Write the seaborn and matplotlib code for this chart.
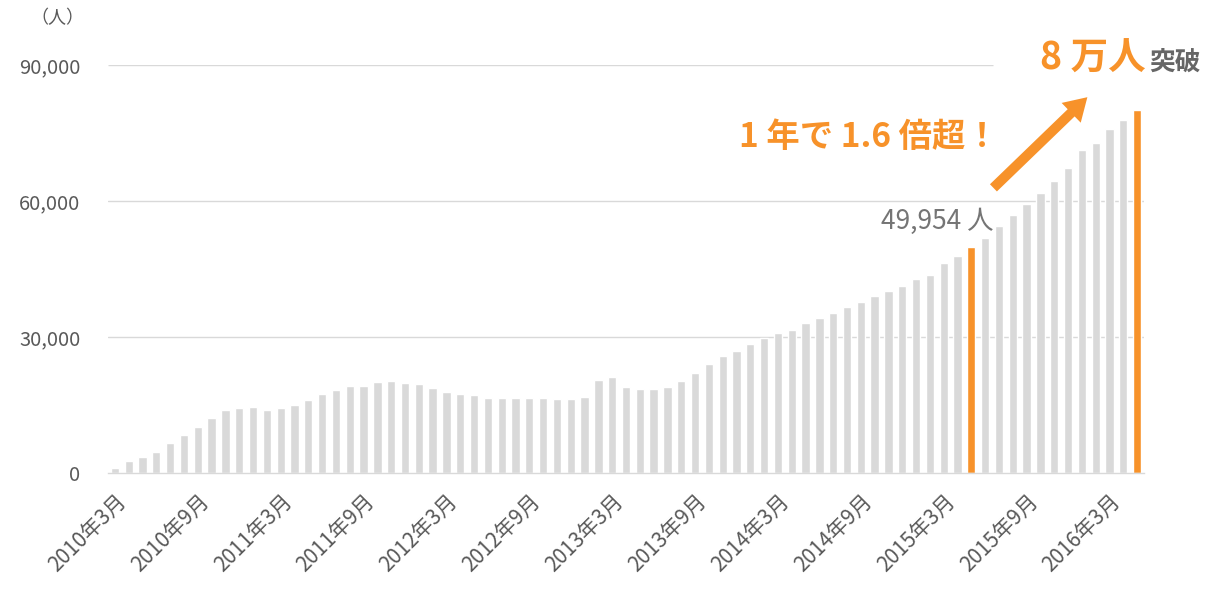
import matplotlib
matplotlib.use("Agg")
import matplotlib.pyplot as plt
import seaborn as sns
import pandas as pd

# Monthly counts, March 2010 to May 2016
start_year, start_month = 2010, 3
members = [
    1200, 2600, 3500, 4600, 6600, 8400, 10100, 12100, 13800, 14300,
    14600, 14000, 14300, 15100, 16100, 17400, 18200, 19300, 19300, 20000,
    20300, 19800, 19600, 18800, 17800, 17400, 17100, 16500, 16500, 16600,
    16500, 16500, 16300, 16300, 16800, 20500, 21200, 19000, 18500, 18500,
    19000, 20400, 22100, 24000, 25700, 27000, 28500, 29700, 30800, 31500,
    33000, 34300, 35200, 36700, 37700, 39000, 40200, 41200, 42700, 43700,
    46400, 47900, 49954, 51900, 54400, 56900, 59300, 61700, 64400, 67200,
    71300, 72900, 75800, 77900, 80100,
]
highlight_months = ["2015年5月", "2016年5月"]
y_ticks = [0, 30000, 60000, 90000]

months = []
y, m = start_year, start_month
for _ in members:
    months.append(f"{y}年{m}月")
    m += 1
    if m > 12:
        y, m = y + 1, 1

GRAY_BAR = "#d9d9d9"
ORANGE = "#f7922a"
TEXT_GRAY = "#595959"

sns.set_style("white")
plt.rcParams["font.family"] = ["Noto Sans CJK JP", "DejaVu Sans"]

df = pd.DataFrame({"month": months, "members": members})
palette = {mo: (ORANGE if mo in highlight_months else GRAY_BAR) for mo in months}

fig = plt.figure(figsize=(12.14, 5.92), dpi=100)
ax = fig.add_axes([108 / 1214, 1 - 473 / 592, (1144 - 108) / 1214, (473 - 65) / 592])

sns.barplot(data=df, x="month", y="members", hue="month", palette=palette,
            legend=False, width=0.6, saturation=1, ax=ax)

n = len(months)
ax.set_xlim(-0.5, n - 0.5)
ax.set_ylim(0, 90000)
ax.set_xlabel("")
ax.set_ylabel("")

# Horizontal gridlines; the top one stops short of the headline text
idx_a = months.index(highlight_months[0])
idx_b = months.index(highlight_months[1])
for yt in y_ticks[1:-1]:
    ax.axhline(yt, color=GRAY_BAR, lw=1, zorder=0)
ax.hlines(y_ticks[-1], -0.5, idx_a + 1.6, color=GRAY_BAR, lw=1, zorder=0)

for side in ["top", "right", "left"]:
    ax.spines[side].set_visible(False)
ax.spines["bottom"].set_color(GRAY_BAR)
ax.spines["bottom"].set_linewidth(1)

ax.set_yticks(y_ticks)
ax.set_yticklabels([f"{v:,}" for v in y_ticks], color=TEXT_GRAY, fontsize=14.5)
ax.tick_params(axis="y", length=0, pad=20)

label_pos = list(range(0, n, 6))
ax.set_xticks(label_pos)
ax.set_xticklabels([months[i] for i in label_pos], rotation=45, ha="right",
                   rotation_mode="anchor", color=TEXT_GRAY, fontsize=15)
ax.tick_params(axis="x", which="major", length=0, pad=12)
ax.set_xticks([i - 0.5 for i in label_pos], minor=True)
ax.tick_params(axis="x", which="minor", length=5, color=GRAY_BAR, width=1)

# Annotations
ax.text(idx_a + 1.6, 55600, f"{members[idx_a]:,} 人", ha="right", va="center",
        color="#757575", fontsize=19)
ax.text(54.6, 74100, "1 年で 1.6 倍超！", ha="center", va="center",
        color=ORANGE, fontsize=24, fontweight="bold")
ax.annotate("", xy=(70.4, 82900), xytext=(63.6, 62900),
            arrowprops=dict(arrowstyle="simple,head_length=0.45,head_width=0.55,tail_width=0.2",
                            mutation_scale=36, color=ORANGE, lw=0, shrinkA=0, shrinkB=0),
            annotation_clip=False)

fig.text(1146 / 1214, 1 - 70 / 592, "8 万人", ha="right", va="baseline",
         color=ORANGE, fontsize=27, fontweight="bold")
fig.text(1201 / 1214, 1 - 70 / 592, "突破", ha="right", va="baseline",
         color="#666666", fontsize=18.5, fontweight="bold")
fig.text(57 / 1214, 1 - 18 / 592, "（人）", ha="center", va="center",
         color=TEXT_GRAY, fontsize=13)

fig.savefig("out.png", dpi=100, facecolor="white")
